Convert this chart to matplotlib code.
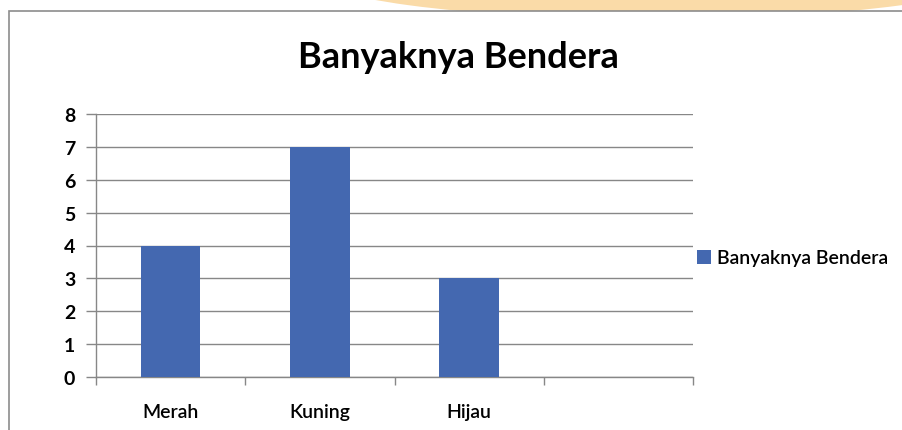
import matplotlib
matplotlib.use("Agg")
import matplotlib.pyplot as plt
from matplotlib.patches import Ellipse, Rectangle
import numpy as np

categories = ["Merah", "Kuning", "Hijau", ""]
values = [4, 7, 3]
series_name = "Banyaknya Bendera"
title = "Banyaknya Bendera"
yticks = [0, 1, 2, 3, 4, 5, 6, 7, 8]

FONT = "Lato"
bar_color = "#4468B0"
grid_color = "#878787"

W, H = 902, 431
fig = plt.figure(figsize=(W / 100, H / 100), dpi=100)
fig.patch.set_facecolor("white")

# background decoration: orange ellipse behind the chart frame
ell = Ellipse((655 / W, 1 + 27 / H), 696 / W, 94 / H, transform=fig.transFigure,
              facecolor="#FADBA8", edgecolor="none", zorder=0)
fig.patches.append(ell)
# white chart frame
frame = Rectangle((9 / W, -0.01), 1, (H - 12) / H + 0.01, transform=fig.transFigure,
                  facecolor="white", edgecolor="#8C8C8C", linewidth=1.2, zorder=1)
fig.patches.append(frame)

ax = fig.add_axes([96 / W, 53 / H, (693 - 96) / W, (378 - 115) / H])
ax.set_zorder(2)
ax.patch.set_alpha(0)

x = np.arange(len(values))
ax.bar(x, values, width=0.4, color=bar_color, zorder=3, label=series_name)

ax.set_xlim(-0.5, len(categories) - 0.5)
ax.set_ylim(0, 8)
ax.set_yticks(yticks)
ax.set_yticklabels([str(v) for v in yticks], fontfamily=FONT, fontweight="bold", fontsize=14)
ax.set_xticks(np.arange(len(categories)))
ax.set_xticklabels(categories, fontfamily=FONT, fontsize=14, fontweight="semibold")
ax.set_xticks(np.arange(len(categories) + 1) - 0.5, minor=True)
ax.tick_params(axis="x", which="major", length=0, pad=19)
ax.tick_params(axis="x", which="minor", length=6, direction="out", color=grid_color, width=1)
ax.tick_params(axis="y", length=7, direction="out", color=grid_color, width=1, pad=8)

ax.yaxis.grid(True, color=grid_color, linewidth=1)
ax.set_axisbelow(True)
for s in ["top", "right"]:
    ax.spines[s].set_visible(False)
for s in ["left", "bottom"]:
    ax.spines[s].set_color(grid_color)
    ax.spines[s].set_linewidth(1)

fig.text(458 / W, 1 - 57 / H, title, ha="center", va="center",
         fontfamily=FONT, fontweight="bold", fontsize=26)

handles, labels = ax.get_legend_handles_labels()
leg = fig.legend(handles, labels, loc="center left", bbox_to_anchor=(687 / W, 1 - 259 / H),
                 frameon=False, prop={"family": FONT, "size": 14, "weight": "semibold"},
                 handlelength=0.75, handleheight=0.75, handletextpad=0.3, borderpad=0)

fig.savefig("out.png", dpi=100)
